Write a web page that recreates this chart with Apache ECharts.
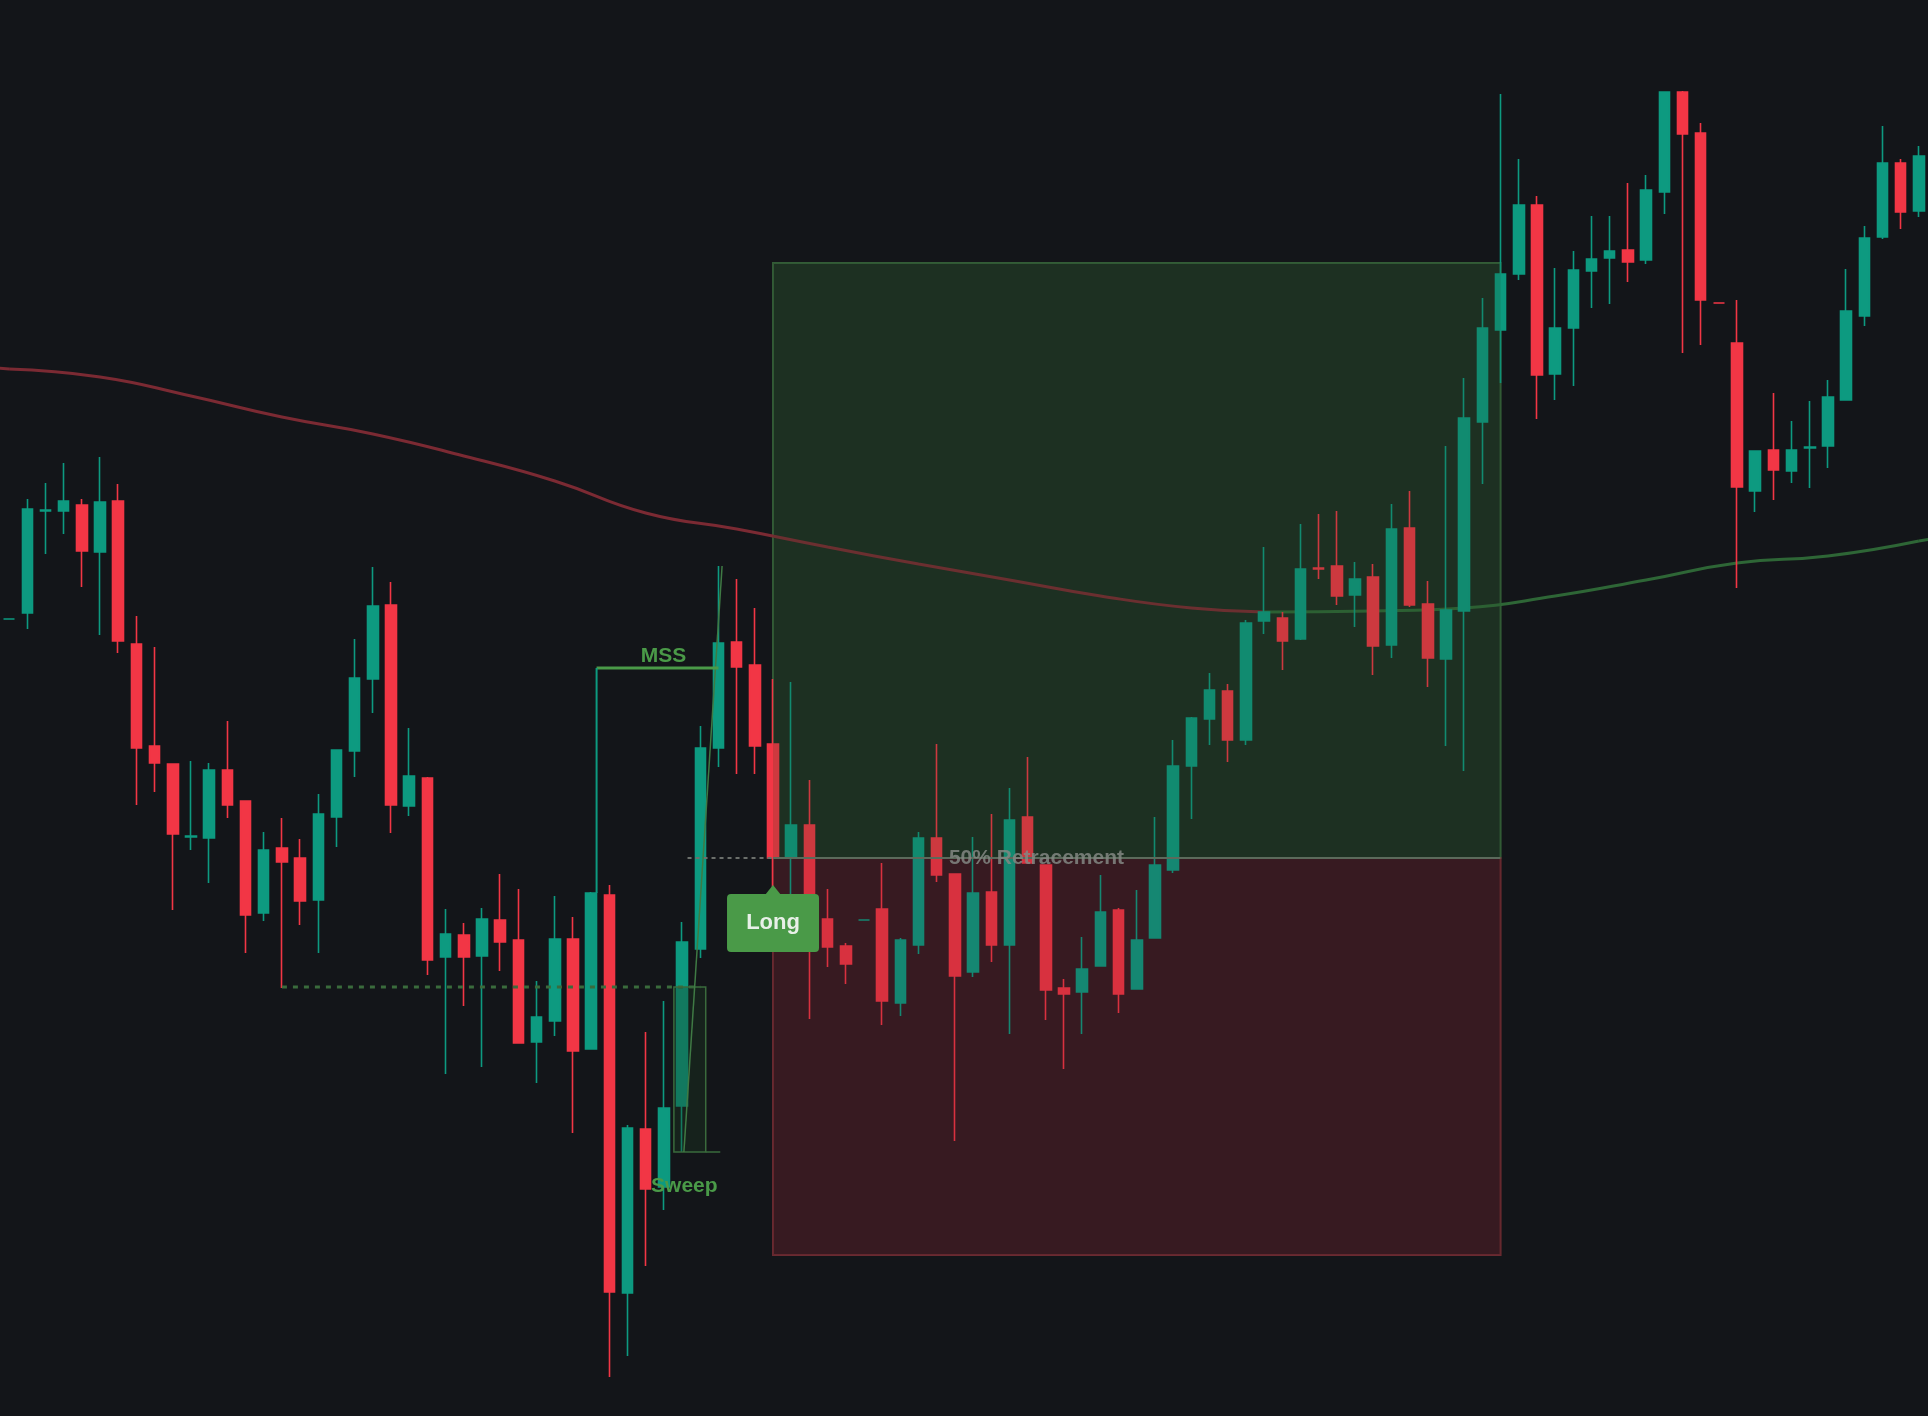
<!DOCTYPE html>
<html><head><meta charset="utf-8">
<script src="https://cdn.jsdelivr.net/npm/echarts@6/dist/echarts.min.js"></script>
<style>html,body{margin:0;padding:0;background:#131519;}#c{width:1928px;height:1416px;}</style>
</head><body><div id="c"></div>
<script>
// [open, close, low, high]
const candles = [
[797,797,797,797],[803,907,787,917],[905,906,862,933],[905,915,882,953],[911,865,829,917],
[864,914,781,959],[915,775,763,932],[772,668,611,800],[670,653,624,769],[652,582,506,652],
[579,580,566,655],[578,646,533,653],[646,611,598,695],[615,501,463,615],[503,566,495,584],
[568,554,428,598],[558,515,491,577],[516,602,463,622],[599,666,569,666],[665,738,639,777],
[737,810,703,849],[811,611,583,834],[610,640,600,688],[638,456,441,639],[459,482,342,507],
[481,459,410,493],[460,497,349,508],[496,474,445,542],[476,373,373,527],[374,399,333,435],
[395,477,380,520],[477,365,283,499],[367,523,367,524],[521,124,39,531],[123,288,60,291],
[287,227,150,384],[229,308,206,415],[310,474,264,494],[467,668,458,690],[668,773,649,850],
[774,749,642,837],[751,670,642,808],[672,558,519,737],[558,591,520,734],[591,522,397,636],
[497,469,449,527],[470,452,432,473],[496,496,496,496],[507,415,391,553],[413,476,400,478],
[471,578,462,584],[578,541,534,672],[542,440,275,542],[444,523,439,579],[524,471,454,602],
[471,596,382,628],[599,553,553,659],[551,426,396,551],[428,422,347,437],[424,447,382,479],
[450,504,450,541],[506,422,403,508],[427,476,427,526],[478,551,478,599],[546,650,543,676],
[650,698,597,699],[697,726,671,743],[725,676,654,732],[676,793,671,796],[795,804,782,869],
[798,775,746,804],[777,847,776,892],[848,847,837,902],[850,820,811,905],[821,837,789,854],
[839,770,741,852],[771,887,758,912],[888,811,809,925],[812,758,729,835],[757,806,670,970],
[805,998,645,1038],[994,1088,932,1118],[1086,1142,1033,1322],[1142,1211,1136,1257],[1211,1041,997,1220],
[1042,1088,1016,1148],[1088,1146,1030,1165],[1145,1157,1108,1200],[1158,1165,1112,1200],[1166,1154,1134,1233],
[1156,1226,1152,1241],[1224,1324,1202,1324],[1324,1282,1063,1325],[1283,1116,1071,1293],[1113,1113,1113,1113],
[1073,929,828,1116],[925,965,904,965],[966,946,916,1023],[945,966,933,995],[968,969,928,1015],
[970,1019,948,1036],[1016,1105,1016,1147],[1100,1178,1090,1190],[1179,1253,1177,1290],[1253,1204,1187,1257],
[1205,1260,1199,1270]
];
const categories = candles.map((_, i) => String(i));
// moving average readings [index, value]
const maRed = [[0,1047],[5,1039],[10,1020],[15,999],[20,982],[25,960],[30,935],[35,903],[40,887],[45,869],[50,852],[55,836],[60,820],[65,808],[69,804]];
const maGreen = [[69,804],[75,805],[80,808],[85,820],[90,836],[95,853],[100,860],[105,875]];
// trade box: [leftIdx, rightIdx, top, entry, bottom]
const tradeBox = [42, 82, 1153, 558, 161];
const mssLevel = [32, 39, 748, 523];
const sweepLevel = [15, 38, 429];
const sweepBox = [37, 38, 429, 264];
const sweepDiag = [37, 264, 39, 850];
const retrace = [37, 42, 558];
const longLabel = [42, 493, 531];

const chart = echarts.init(document.getElementById('c'));
const UP = '#0d9a80', DOWN = '#f23645', G = '#4a9a48';
function custom(data, z, fn) {
  return { type: 'custom', data: [data], z: z, silent: true, renderItem: function (p, api) { return fn(api, data); } };
}
const bandW = api => api.size([1, 0])[0];
chart.setOption({
  backgroundColor: '#131519',
  animation: false,
  grid: { left: 0, right: 0, top: 0, bottom: 0 },
  xAxis: { type: 'category', data: categories, show: false, boundaryGap: true },
  yAxis: { type: 'value', min: 0, max: 1416, show: false },
  series: [
    custom(tradeBox, 1, (api, d) => {
      const l = api.coord([d[0], 0])[0], r = api.coord([d[1], 0])[0];
      const yt = api.coord([0, d[2]])[1], ym = api.coord([0, d[3]])[1], yb = api.coord([0, d[4]])[1];
      return { type: 'group', children: [
        { type: 'rect', shape: { x: l, y: yt, width: r - l, height: ym - yt }, style: { fill: '#1c2b22', stroke: '#335c37', lineWidth: 2 } },
        { type: 'rect', shape: { x: l, y: ym, width: r - l, height: yb - ym }, style: { fill: '#361b21', stroke: '#6a2a31', lineWidth: 2 } }
      ]};
    }),
    { type: 'line', data: maRed, smooth: true, showSymbol: false, z: 2, lineStyle: { color: '#7b2a33', width: 3 } },
    { type: 'line', data: maGreen, smooth: true, showSymbol: false, z: 2, lineStyle: { color: '#2e6636', width: 3 } },
    custom(maRed.slice(0, 2).concat(maGreen.slice(-2)), 2, (api, d) => {
      const w = bandW(api);
      const a = api.coord(d[0]), b = api.coord(d[1]), c = api.coord(d[2]), e = api.coord(d[3]);
      const s1 = (b[1] - a[1]) / (b[0] - a[0]), s2 = (e[1] - c[1]) / (e[0] - c[0]);
      const ext = w * 0.6;
      return { type: 'group', children: [
        { type: 'line', shape: { x1: a[0] - ext, y1: a[1] - s1 * ext, x2: a[0], y2: a[1] }, style: { stroke: '#7b2a33', lineWidth: 3 } },
        { type: 'line', shape: { x1: e[0], y1: e[1], x2: e[0] + ext, y2: e[1] + s2 * ext }, style: { stroke: '#2e6636', lineWidth: 3 } }
      ]};
    }),
    { type: 'candlestick', data: candles, barWidth: 11, z: 3,
      itemStyle: { color: UP, color0: DOWN, borderColor: UP, borderColor0: DOWN, borderWidth: 1.6 } },
    custom(tradeBox, 4, (api, d) => {
      const l = api.coord([d[0], 0])[0], r = api.coord([d[1], 0])[0];
      const yt = api.coord([0, d[2]])[1], ym = api.coord([0, d[3]])[1], yb = api.coord([0, d[4]])[1];
      return { type: 'group', children: [
        { type: 'rect', shape: { x: l, y: yt, width: r - l, height: ym - yt }, style: { fill: 'rgba(40,70,40,0.18)' } },
        { type: 'rect', shape: { x: l, y: ym, width: r - l, height: yb - ym }, style: { fill: 'rgba(70,25,35,0.15)' } },
        { type: 'line', shape: { x1: l, y1: ym, x2: r, y2: ym }, style: { stroke: '#5b6a5b', lineWidth: 2 } }
      ]};
    }),
    custom(retrace, 5, (api, d) => {
      const a = api.coord([d[0], d[2]]), b = api.coord([d[1], d[2]]);
      const w = bandW(api);
      return { type: 'group', children: [
        { type: 'line', shape: { x1: a[0] + 0.3 * w, y1: a[1], x2: b[0], y2: b[1] }, style: { stroke: '#6b6f6b', lineWidth: 2, lineDash: [4, 4] } },
        { type: 'text', x: api.coord([52, 0])[0] - 6, y: a[1], style: { text: '50% Retracement', fill: 'rgba(130,135,130,0.85)', font: 'bold 21px "Liberation Sans", Arial', textAlign: 'left', textVerticalAlign: 'middle' } }
      ]};
    }),
    custom(sweepLevel, 5, (api, d) => {
      const a = api.coord([d[0], d[2]]), b = api.coord([d[1], d[2]]);
      return { type: 'line', shape: { x1: a[0], y1: a[1], x2: b[0], y2: b[1] }, style: { stroke: '#3a6b3c', lineWidth: 3, lineDash: [5, 6] } };
    }),
    custom(sweepBox, 5, (api, d) => {
      const w = bandW(api);
      const l = api.coord([d[0], d[2]])[0] - 0.45 * w, r = api.coord([d[1], d[2]])[0] + 0.3 * w;
      const yt = api.coord([0, d[2]])[1], yb = api.coord([0, d[3]])[1];
      return { type: 'group', children: [
        { type: 'rect', shape: { x: l, y: yt, width: r - l, height: yb - yt }, style: { fill: 'rgba(30,60,35,0.35)', stroke: '#3a6b3c', lineWidth: 1.5 } },
        { type: 'line', shape: { x1: r, y1: yb, x2: r + 0.8 * w, y2: yb }, style: { stroke: '#3a6b3c', lineWidth: 1.5 } },
        { type: 'text', x: (l + r) / 2 - 0.3 * w, y: yb + 34, style: { text: 'Sweep', fill: G, font: 'bold 21px "Liberation Sans", Arial', textAlign: 'center', textVerticalAlign: 'middle' } }
      ]};
    }),
    custom(sweepDiag, 6, (api, d) => {
      const w = bandW(api);
      const a = api.coord([d[0], d[1]]), b = api.coord([d[2], d[3]]);
      return { type: 'line', shape: { x1: a[0] + 0.1 * w, y1: a[1], x2: b[0] + 0.2 * w, y2: b[1] }, style: { stroke: '#3f7a44', lineWidth: 1.5 } };
    }),
    custom(mssLevel, 6, (api, d) => {
      const w = bandW(api);
      const a = api.coord([d[0], d[2]]), b = api.coord([d[1], d[2]]), c = api.coord([d[0], d[3]]);
      const x0 = a[0] + 0.3 * w;
      return { type: 'group', children: [
        { type: 'line', shape: { x1: x0, y1: a[1], x2: b[0], y2: b[1] }, style: { stroke: G, lineWidth: 3 } },
        { type: 'line', shape: { x1: x0, y1: a[1], x2: x0, y2: c[1] }, style: { stroke: UP, lineWidth: 2 } },
        { type: 'text', x: (x0 + b[0]) / 2 + 6, y: a[1] - 12, style: { text: 'MSS', fill: G, font: 'bold 21px "Liberation Sans", Arial', textAlign: 'center', textVerticalAlign: 'middle' } }
      ]};
    }),
    custom(longLabel, 7, (api, d) => {
      const c = api.coord([d[0], d[1]]), t = api.coord([d[0], d[2]]);
      const W = 92, H = 58;
      return { type: 'group', children: [
        { type: 'polygon', shape: { points: [[c[0] - 8, c[1] - H / 2 + 1], [c[0], t[1]], [c[0] + 8, c[1] - H / 2 + 1]] }, style: { fill: G } },
        { type: 'rect', shape: { x: c[0] - W / 2, y: c[1] - H / 2, width: W, height: H, r: 4 }, style: { fill: G } },
        { type: 'text', x: c[0], y: c[1], style: { text: 'Long', fill: '#e8f0e8', font: 'bold 22px "Liberation Sans", Arial', textAlign: 'center', textVerticalAlign: 'middle' } }
      ]};
    })
  ]
});
</script></body></html>
